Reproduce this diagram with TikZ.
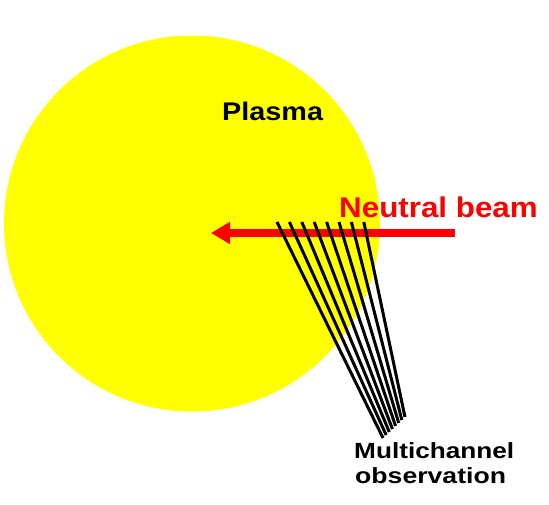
\documentclass[tikz,border=0pt]{standalone}
\usepackage{fontspec}
\setmainfont{Liberation Sans}
\usetikzlibrary{arrows.meta}
\definecolor{plasmayellow}{RGB}{255,255,0}
\definecolor{beamred}{RGB}{255,0,0}
\tikzset{
  lbl/.style={inner sep=0pt, anchor=base west, font=\bfseries},
  sight/.style={line width=3pt, black},
  beam/.style={line width=8pt, beamred, -{Triangle[length=19pt,width=21pt]}}
}
\begin{document}
\begin{tikzpicture}[x=1pt,y=-1pt]
\useasboundingbox (0,0) rectangle (549,504);
\fill[plasmayellow] (192,223.5) circle[radius=188];
\coordinate (bs) at (455,233);
\coordinate (be) at (211,233);
\draw[beam] (bs) -- (be);
\foreach \i in {0,...,7} {
  \coordinate (t\i) at ({277+12.4*\i},222);
  \coordinate (b\i) at ({383+3.14*\i},{438-3*\i});
  \draw[sight] (t\i) -- (b\i);
}
\node[lbl] (plasma) at (222,120) {\fontsize{25.5}{25.5}\selectfont\scalebox{1.13}[1]{Plasma}};
\node[lbl, text=beamred] (nb) at (339,217) {\fontsize{28.5}{28.5}\selectfont\scalebox{1.1}[1]{Neutral beam}};
\node[lbl] (mc) at (354,458) {\fontsize{22}{22}\selectfont\scalebox{1.19}[1]{Multichannel}};
\node[lbl] (obs) at (355,483) {\fontsize{22}{22}\selectfont\scalebox{1.21}[1]{observation}};
\end{tikzpicture}
\end{document}
